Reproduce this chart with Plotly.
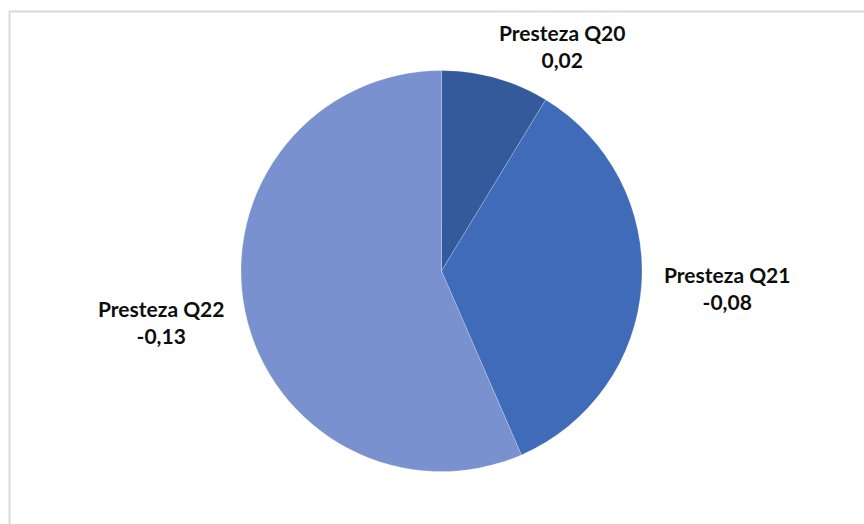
import plotly.graph_objects as go

# Share of each category (Excel pie uses absolute magnitudes)
categories = ["Presteza Q20", "Presteza Q21", "Presteza Q22"]
values = [0.02, -0.08, -0.13]
colors = ["#345A9C", "#3F6BB9", "#7A91CF"]

W, H = 864, 524
cx, cy, r = 441.5, 271, 200.5

magnitudes = [abs(v) for v in values]

def fmt(v):
    return f"{v:.2f}".replace(".", ",")

fig = go.Figure()
fig.add_trace(go.Pie(
    labels=categories,
    values=magnitudes,
    marker=dict(colors=colors, line=dict(color="rgba(255,255,255,0.35)", width=0.6)),
    sort=False,
    direction="clockwise",
    rotation=0,
    textinfo="none",
    hoverinfo="label+value",
    showlegend=False,
    domain=dict(x=[(cx - r) / W, (cx + r) / W], y=[(H - cy - r) / H, (H - cy + r) / H]),
))

# Data labels: category name and signed value
label_pos = [(562, 46), (727, 288), (161, 322)]
for cat, v, (lx, ly) in zip(categories, values, label_pos):
    fig.add_annotation(
        x=lx / W, y=1 - ly / H, xref="paper", yref="paper",
        text=f"<b>{cat}<br>{fmt(v)}</b>", showarrow=False,
        font=dict(family="Lato, Open Sans, sans-serif", size=21, color="#0D0D0D"),
        align="center", xanchor="center", yanchor="middle",
    )

# Chart area frame
fig.add_shape(type="rect", xref="paper", yref="paper",
              x0=9.5 / W, x1=1.05, y0=-0.05, y1=1 - 11.5 / H,
              line=dict(color="#D9D9D9", width=2), fillcolor="rgba(0,0,0,0)")

fig.update_layout(
    width=W, height=H,
    margin=dict(l=0, r=0, t=0, b=0),
    paper_bgcolor="white", plot_bgcolor="white",
)

fig.write_html("out.html")
